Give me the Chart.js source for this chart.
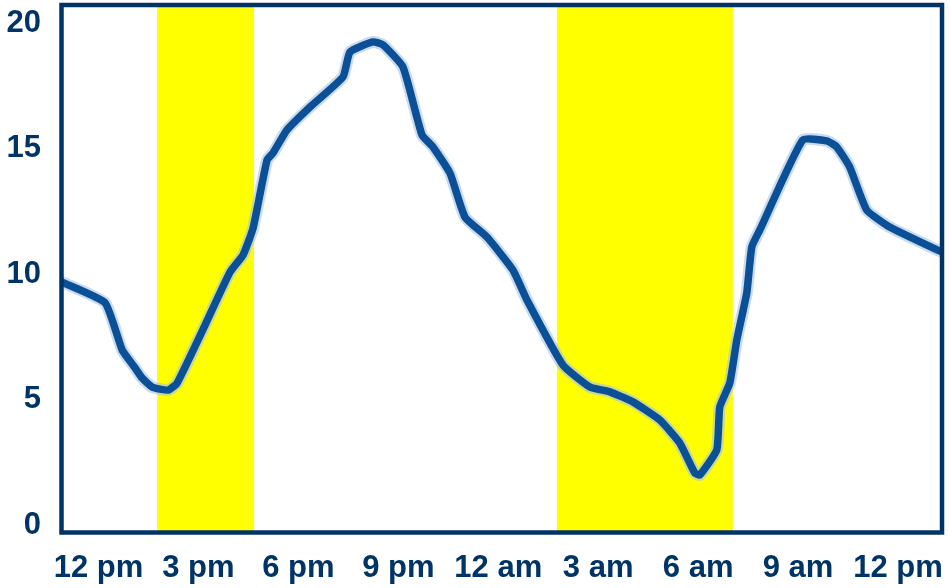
<!DOCTYPE html>
<html>
<head>
<meta charset="utf-8">
<script src="https://cdn.jsdelivr.net/npm/chart.js@4/dist/chart.umd.min.js"></script>
<style>
  html, body { margin: 0; padding: 0; background: #fff; }
  #wrap { width: 949px; height: 588px; }
</style>
</head>
<body>
<div id="wrap"><canvas id="c"></canvas></div>
<script>
// hours after 12 pm on day one
const hours = [-1.10, 0.20, 0.71, 1.10, 1.31, 1.61, 2.09, 2.36, 3.20, 3.95, 4.34, 4.64, 5.06, 5.24, 5.66,
  6.35, 7.34, 7.55, 8.24, 8.54, 9.14, 9.71, 10.04, 10.55, 11.00, 11.66, 12.44, 12.86, 13.94, 14.75,
  15.35, 16.04, 16.85, 17.45, 17.90, 18.05, 18.56, 18.65, 18.95, 19.16, 19.46, 19.61, 19.85, 21.14,
  21.86, 22.16, 22.55, 23.06, 23.75, 25.17, 25.32];
const values = [9.57, 8.74, 6.87, 6.15, 5.75, 5.39, 5.27, 5.55, 7.86, 9.97, 10.65, 11.72, 14.43, 14.71, 15.63,
  16.54, 17.74, 18.73, 19.13, 19.01, 18.13, 15.43, 14.95, 13.91, 12.16, 11.36, 10.05, 8.86, 6.27, 5.39,
  5.20, 4.80, 4.08, 3.16, 1.97, 1.89, 2.89, 4.60, 5.55, 7.26, 9.14, 10.97, 11.64, 15.23,
  15.19, 14.95, 14.15, 12.44, 11.76, 10.85, 10.77];

const tickHours = [0, 3, 6, 9, 12, 15, 18, 21, 24];
const tickLabels = ['12 pm', '3 pm', '6 pm', '9 pm', '12 am', '3 am', '6 am', '9 am', '12 pm'];
const yTicks = [0, 5, 10, 15, 20];

// shaded (yellow) periods, in hours
const bandStart = [1.76, 13.76];
const bandEnd = [4.67, 19.04];

const navy = '#003366';
const lineBlue = '#0b4f96';
const font = { family: '"Liberation Sans", Arial, sans-serif', size: 31, weight: 'bold' };

const pts = hours.map((h, i) => ({ x: h, y: values[i] }));

const bandPlugin = {
  id: 'bands',
  beforeDatasetsDraw(chart) {
    const { ctx, chartArea: a, scales: { x } } = chart;
    ctx.save();
    ctx.fillStyle = '#ffff00';
    bandStart.forEach((s, i) => {
      const x0 = x.getPixelForValue(s);
      const x1 = x.getPixelForValue(bandEnd[i]);
      ctx.fillRect(x0, a.top, x1 - x0, a.bottom - a.top);
    });
    ctx.restore();
  }
};

const framePlugin = {
  id: 'frame',
  afterDatasetsDraw(chart) {
    const { ctx, chartArea: a } = chart;
    ctx.save();
    ctx.strokeStyle = navy;
    ctx.lineWidth = 4.5;
    ctx.strokeRect(a.left, a.top, a.right - a.left, a.bottom - a.top);
    ctx.restore();
  }
};

new Chart(document.getElementById('c'), {
  type: 'line',
  data: {
    datasets: [
      {
        data: pts,
        borderColor: lineBlue,
        borderWidth: 7.5,
        borderJoinStyle: 'round',
        borderCapStyle: 'round',
        pointRadius: 0,
        tension: 0.15,
        order: 0
      },
      {
        data: pts,
        borderColor: 'rgba(165,195,228,0.6)',
        borderWidth: 12,
        borderJoinStyle: 'round',
        borderCapStyle: 'round',
        pointRadius: 0,
        tension: 0.15,
        order: 1
      }
    ]
  },
  plugins: [bandPlugin, framePlugin],
  options: {
    responsive: true,
    maintainAspectRatio: false,
    animation: false,
    layout: { padding: { top: 5, right: 7, left: 0, bottom: 0 } },
    plugins: { legend: { display: false }, tooltip: { enabled: false } },
    scales: {
      x: {
        type: 'linear',
        min: -1.11,
        max: 25.32,
        grid: { display: false, drawTicks: false },
        border: { display: false },
        afterBuildTicks: s => { s.ticks = tickHours.map(v => ({ value: v })); },
        afterFit: s => { s.height = 55.5; s.paddingLeft = 0; s.paddingRight = 0; },
        ticks: {
          color: navy,
          font: font,
          padding: 17,
          maxRotation: 0,
          autoSkip: false,
          callback: (v, i) => tickLabels[i]
        }
      },
      y: {
        min: -0.4,
        max: 20.6,
        grid: { display: false, drawTicks: false },
        border: { display: false },
        afterBuildTicks: s => { s.ticks = yTicks.map(v => ({ value: v })); },
        afterFit: s => { s.width = 61.5; s.paddingTop = 0; s.paddingBottom = 0; },
        ticks: {
          color: navy,
          font: font,
          padding: 20.5,
          labelOffset: 3,
          callback: v => String(v)
        }
      }
    }
  }
});
</script>
</body>
</html>
